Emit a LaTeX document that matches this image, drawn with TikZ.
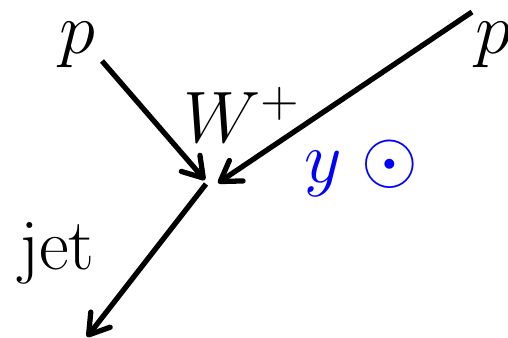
\documentclass[tikz,border=0pt]{standalone}
\usepackage{amsmath}
\usepackage{xcolor}
\usetikzlibrary{arrows.meta}
\definecolor{rapidityblue}{HTML}{0000FF}

\begin{document}
\begin{tikzpicture}[
  leg/.style={line width=1.5pt,-{Straight Barb[length=5.5pt,width=7pt,round]}},
  lbl/.style={font=\huge,inner sep=0pt}]

\useasboundingbox (0,0) rectangle (5.08,3.38);

% End points of the three legs
\coordinate (inLs) at (1.02,2.77);
\coordinate (inLe) at (2.05,1.58);
\coordinate (inRs) at (4.72,3.26);
\coordinate (inRe) at (2.18,1.55);
\coordinate (outs) at (2.06,1.54);
\coordinate (oute) at (0.87,0.01);

% Incoming protons
\draw[leg]
  (inLs) -- (inLe);

\draw[leg]
  (inRs) -- (inRe);

% Outgoing jet
\draw[leg]
  (outs) -- (oute);

% Labels
\node[lbl] (pleft)
  at (0.77,2.93) {$p$};

\node[lbl] (pright)
  at (4.93,2.93) {$p$};

\node[lbl] (wboson)
  at (2.42,2.23) {$W^+$};

\node[lbl,text=rapidityblue] (rapidity)
  at (3.615,1.70) {$y\;\odot$};

\node[lbl] (jet)
  at (0.57,0.85) {jet};

\end{tikzpicture}
\end{document}
